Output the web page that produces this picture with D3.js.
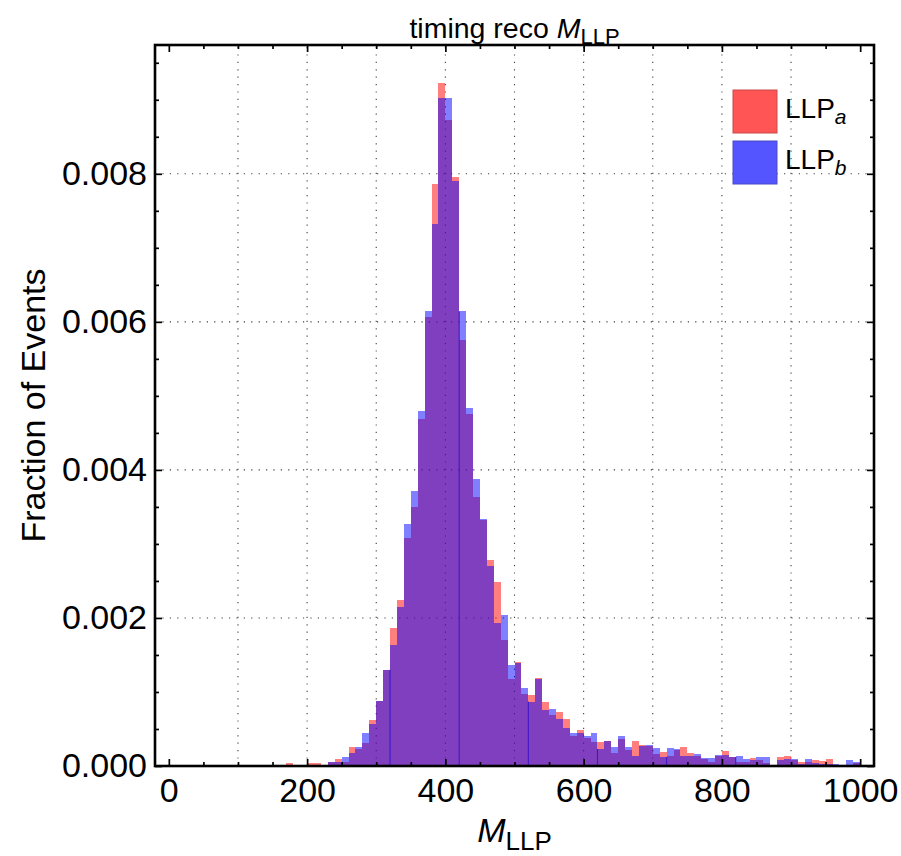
<!DOCTYPE html>
<html>
<head>
<meta charset="utf-8">
<script src="https://cdn.jsdelivr.net/npm/d3@7"></script>
<style>
  body { margin: 0; background: #fff; }
  svg { display: block; font-family: "Liberation Sans", Arial, sans-serif; }
</style>
</head>
<body>
<div id="chart"></div>
<script>
// ---- data: fraction of events per 10-wide bin of M_LLP ----
const binWidth = 10;
const binStarts = d3.range(0, 1000, binWidth);

const fracA = [
  0, 0, 0, 0, 0, 0, 0, 0, 0, 0,
  0, 0, 0, 0, 0, 0, 0, 0.00004, 0, 0,
  0.00004, 0.00004, 0, 0.00005, 0.0001, 0.00005, 0.00025, 0.00023, 0.00031, 0.00062,
  0.00088, 0.0013, 0.00186, 0.00224, 0.00308, 0.0035, 0.00469, 0.00607, 0.00786, 0.00923,
  0.00873, 0.00796, 0.00576, 0.00476, 0.00364, 0.00332, 0.00278, 0.00249, 0.0017, 0.00118,
  0.00141, 0.00097, 0.00096, 0.00119, 0.00086, 0.00069, 0.00073, 0.00063, 0.00041, 0.00049,
  0.00038, 0.00033, 0.00033, 0.00034, 0.00018, 0.00037, 0.00022, 0.00034, 0.00029, 0.00027,
  0.00016, 0.00019, 0.00013, 0.00021, 0.00026, 0.00018, 0.00014, 0.0001, 0.00006, 0.00013,
  0.0002, 0.00012, 0.00006, 0.00006, 0.00011, 0.00008, 0.00004, 0, 0.00012, 0.00014,
  0.00008, 0.00006, 0.00005, 0.00008, 0.00007, 0.0001, 0.00001, 0, 0, 0.00004,
];

const fracB = [
  0, 0, 0, 0, 0, 0, 0, 0, 0, 0,
  0, 0, 0, 0, 0, 0, 0, 0, 0, 0,
  0, 0, 0, 0.00005, 0.00005, 0.00012, 0.00018, 0.00026, 0.00045, 0.00057,
  0.00088, 0.0013, 0.00163, 0.00215, 0.00327, 0.00372, 0.0048, 0.00615, 0.00732, 0.00903,
  0.00902, 0.0079, 0.00614, 0.00484, 0.00388, 0.00333, 0.0027, 0.00193, 0.00204, 0.00137,
  0.00139, 0.00105, 0.00087, 0.00118, 0.00075, 0.00077, 0.00063, 0.00052, 0.00044, 0.00044,
  0.00041, 0.00044, 0.00023, 0.00034, 0.00025, 0.0004, 0.00026, 0.00014, 0.00027, 0.00028,
  0.00024, 0.00012, 0.00024, 0.00023, 0.00013, 0.00013, 0.00016, 0.00011, 0.00011, 0.00015,
  0.00015, 0.00012, 0.00014, 0.0001, 0.00008, 0.00012, 0.00012, 0.00002, 0.00008, 0.0001,
  0.00009, 0.00003, 0.0001, 0.00004, 0.00003, 0.00003, 0.00003, 0, 0.00008, 0.00006,
];

// bin edges where the renderer left a thin dark edge line
const edgeLines = [320, 420, 520, 620, 720, 820];

const xMajor = [0, 200, 400, 600, 800, 1000];
const xMinor = [50, 100, 150, 250, 300, 350, 450, 500, 550, 650, 700, 750, 850, 900, 950];
const xGrid = [100, 200, 300, 400, 500, 600, 700, 800, 900];
const yMajor = [0, 0.002, 0.004, 0.006, 0.008];
const yMinor = [0.0005, 0.001, 0.0015, 0.0025, 0.003, 0.0035, 0.0045, 0.005, 0.0055,
                0.0065, 0.007, 0.0075, 0.0085, 0.009, 0.0095];
const yGrid = [0.002, 0.004, 0.006, 0.008];

const seriesNames = ["a", "b"];

const COLOR = {
  a: "#ff0000",
  b: "#0000ff",
  swatchA: "#ff5555",
  swatchB: "#5555ff",
  edge: "#3a16c8",
};

// ---- layout ----
const width = 901;
const height = 856;
const frame = { left: 155, right: 874, top: 45, bottom: 766 };

const x = d3.scaleLinear().domain([-20, 1020]).range([frame.left, frame.right]);
const y = d3.scaleLinear().domain([0, 0.00974]).range([frame.bottom, frame.top]);

const svg = d3.select("#chart").append("svg")
  .attr("width", width).attr("height", height)
  .attr("viewBox", `0 0 ${width} ${height}`);

// ---- dotted grid ----
const grid = svg.append("g")
  .attr("stroke", "#000").attr("stroke-width", 1.1)
  .attr("stroke-dasharray", "1.2,6.2").attr("opacity", 0.75);
grid.selectAll("line.gx").data(xGrid).join("line")
  .attr("x1", d => x(d)).attr("x2", d => x(d))
  .attr("y1", frame.bottom).attr("y2", frame.top);
grid.selectAll("line.gy").data(yGrid).join("line")
  .attr("y1", d => y(d)).attr("y2", d => y(d))
  .attr("x1", frame.left).attr("x2", frame.right);

// ---- histograms: red first, blue over it, both at half opacity ----
const bins = binStarts.map((s, i) => ({ s, a: fracA[i], b: fracB[i] }));
seriesNames.forEach(k => {
  svg.append("g").selectAll("rect")
    .data(bins.filter(d => d[k] > 0))
    .join("rect")
    .attr("x", d => x(d.s))
    .attr("width", d => x(d.s + binWidth) - x(d.s))
    .attr("y", d => y(d[k]))
    .attr("height", d => y(0) - y(d[k]))
    .attr("fill", COLOR[k])
    .attr("fill-opacity", 0.5)
    .attr("shape-rendering", "crispEdges");
});

// thin edge lines left between some blue bars
svg.append("g").selectAll("line")
  .data(edgeLines)
  .join("line")
  .attr("x1", d => x(d)).attr("x2", d => x(d))
  .attr("y1", y(0))
  .attr("y2", d => {
    const i = binStarts.indexOf(d);
    return y(Math.min(fracB[i - 1], fracB[i]));
  })
  .attr("stroke", COLOR.edge).attr("stroke-width", 1);

// ---- frame ticks (inward, on all four sides) ----
function styleAxis(g) {
  g.select(".domain").remove();
  g.selectAll(".tick line").attr("stroke", "#000").attr("stroke-width", 1.7);
  g.selectAll(".tick text")
    .attr("fill", "#000")
    .attr("font-size", 34);
}

svg.append("g").attr("transform", `translate(0,${frame.bottom})`)
  .call(d3.axisBottom(x).tickValues(xMajor).tickSizeInner(-7).tickSizeOuter(0)
    .tickPadding(12).tickFormat(d3.format("d")))
  .call(styleAxis);
svg.append("g").attr("transform", `translate(0,${frame.bottom})`)
  .call(d3.axisBottom(x).tickValues(xMinor).tickSizeInner(-4).tickSizeOuter(0).tickFormat(""))
  .call(styleAxis);
svg.append("g").attr("transform", `translate(0,${frame.top})`)
  .call(d3.axisTop(x).tickValues(xMajor).tickSizeInner(-7).tickSizeOuter(0).tickFormat(""))
  .call(styleAxis);
svg.append("g").attr("transform", `translate(0,${frame.top})`)
  .call(d3.axisTop(x).tickValues(xMinor).tickSizeInner(-4).tickSizeOuter(0).tickFormat(""))
  .call(styleAxis);

svg.append("g").attr("transform", `translate(${frame.left},0)`)
  .call(d3.axisLeft(y).tickValues(yMajor).tickSizeInner(-7).tickSizeOuter(0)
    .tickPadding(8).tickFormat(d3.format(".3f")))
  .call(styleAxis);
svg.append("g").attr("transform", `translate(${frame.left},0)`)
  .call(d3.axisLeft(y).tickValues(yMinor).tickSizeInner(-4).tickSizeOuter(0).tickFormat(""))
  .call(styleAxis);
svg.append("g").attr("transform", `translate(${frame.right},0)`)
  .call(d3.axisRight(y).tickValues(yMajor).tickSizeInner(-7).tickSizeOuter(0).tickFormat(""))
  .call(styleAxis);
svg.append("g").attr("transform", `translate(${frame.right},0)`)
  .call(d3.axisRight(y).tickValues(yMinor).tickSizeInner(-4).tickSizeOuter(0).tickFormat(""))
  .call(styleAxis);

// ---- frame ----
svg.append("rect")
  .attr("x", frame.left).attr("y", frame.top)
  .attr("width", frame.right - frame.left)
  .attr("height", frame.bottom - frame.top)
  .attr("fill", "none").attr("stroke", "#000").attr("stroke-width", 2.6);

// ---- texts ----
const cx = (frame.left + frame.right) / 2;

const title = svg.append("text")
  .attr("x", cx).attr("y", 38)
  .attr("text-anchor", "middle").attr("font-size", 28.5).attr("fill", "#000");
title.append("tspan").text("timing reco ");
title.append("tspan").attr("font-style", "italic").text("M");
title.append("tspan").attr("font-size", 22).attr("dy", 6).text("LLP");

const xTitle = svg.append("text")
  .attr("x", cx).attr("y", 842)
  .attr("text-anchor", "middle").attr("font-size", 34).attr("fill", "#000");
xTitle.append("tspan").attr("font-style", "italic").text("M");
xTitle.append("tspan").attr("font-size", 26).attr("dy", 8).text("LLP");

svg.append("text")
  .attr("transform", `translate(45,${(frame.top + frame.bottom) / 2}) rotate(-90)`)
  .attr("text-anchor", "middle").attr("font-size", 34).attr("fill", "#000")
  .text("Fraction of Events");

// ---- legend ----
const legendItems = [
  { label: "LLP", sub: "a", fill: COLOR.swatchA, stroke: "#c84a4a" },
  { label: "LLP", sub: "b", fill: COLOR.swatchB, stroke: "#4a4ac8" },
];
const legend = svg.append("g").attr("transform", "translate(733,90)");
const li = legend.selectAll("g").data(legendItems).join("g")
  .attr("transform", (d, i) => `translate(0,${i * 51})`);
li.append("rect")
  .attr("width", 44).attr("height", 43)
  .attr("fill", d => d.fill).attr("stroke", d => d.stroke).attr("stroke-width", 1);
const lt = li.append("text")
  .attr("x", 52).attr("y", 28)
  .attr("font-size", 28).attr("fill", "#000");
lt.append("tspan").text(d => d.label);
lt.append("tspan").attr("font-style", "italic").attr("font-size", 21).attr("dy", 6)
  .text(d => d.sub);
</script>
</body>
</html>
